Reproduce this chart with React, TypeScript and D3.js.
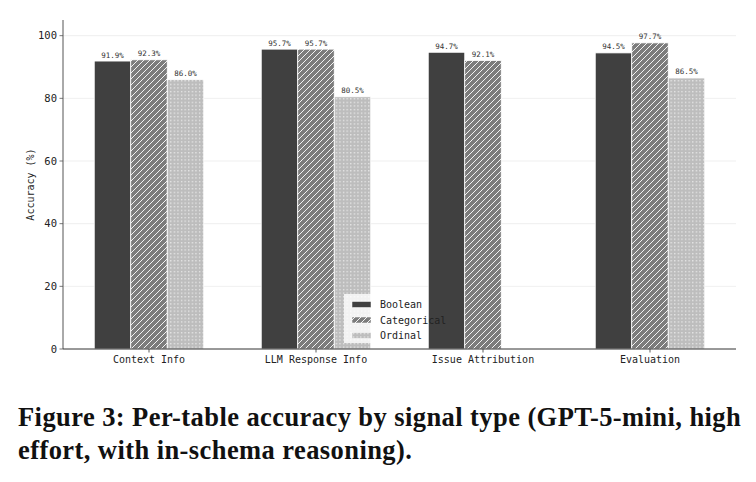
import React from "react";
import * as d3 from "d3";

const categories = ["Context Info", "LLM Response Info", "Issue Attribution", "Evaluation"];
const seriesNames = ["Boolean", "Categorical", "Ordinal"];
const booleanValues = [91.9, 95.7, 94.7, 94.5];
const categoricalValues = [92.3, 95.7, 92.1, 97.7];
const ordinalValues: (number | null)[] = [86.0, 80.5, null, 86.5];
const yTicks = [0, 20, 40, 60, 80, 100];

const W = 756;
const H = 482;
const MONO = "'DejaVu Sans Mono', monospace";
const SERIF = "'Liberation Serif', 'DejaVu Serif', serif";

const fills = ["#404040", "url(#hatch)", "url(#dots)"];

export default function App() {
  const series = [booleanValues, categoricalValues, ordinalValues];
  const plotLeft = 63;
  const plotRight = 736;
  const y = d3.scaleLinear().domain([0, 105]).range([349, 20]);
  const x = d3.scalePoint<string>().domain(categories).range([65.5, 733.5]).padding(0.5);
  const sub = d3.scaleBand<string>().domain(seriesNames).range([-54.75, 54.75]);
  const bw = sub.bandwidth();

  return (
    <svg width={W} height={H} style={{ position: "absolute", left: 0, top: 0, background: "#fff" }}>
      <defs>
        <pattern id="hatch" patternUnits="userSpaceOnUse" width={6} height={6}>
          <rect width={6} height={6} fill="#7c7c7c" />
          <path d="M-1,1 l2,-2 M0,6 l6,-6 M5,7 l2,-2" stroke="#fff" strokeWidth={0.9} />
        </pattern>
        <pattern id="dots" patternUnits="userSpaceOnUse" width={3.6} height={3.6}>
          <rect width={3.6} height={3.6} fill="#bdbdbd" />
          <rect x={1} y={1} width={1.2} height={1.2} fill="#f2f2f2" />
        </pattern>
      </defs>

      {/* horizontal grid */}
      {yTicks.slice(1).map((t) => (
        <line key={t} x1={plotLeft} x2={plotRight} y1={y(t)} y2={y(t)} stroke="#ebebeb" strokeWidth={0.8} />
      ))}

      {/* bars */}
      {series.map((vals, si) =>
        categories.map((c, ci) => {
          const v = vals[ci];
          if (v == null) return null;
          const bx = (x(c) as number) + (sub(seriesNames[si]) as number);
          return (
            <g key={`${si}-${ci}`}>
              <rect x={bx} y={y(v)} width={bw} height={y(0) - y(v)} fill={fills[si]} stroke="#fff" strokeWidth={0.8} />
              <text x={bx + bw / 2} y={y(v) - 3.5} textAnchor="middle" fontFamily={MONO} fontSize={7.5} fill="#333">
                {v.toFixed(1)}%
              </text>
            </g>
          );
        })
      )}

      {/* axes */}
      <line x1={plotLeft} x2={plotLeft} y1={20} y2={349} stroke="#555" strokeWidth={1} />
      <line x1={plotLeft} x2={plotRight} y1={349} y2={349} stroke="#333" strokeWidth={1} />
      {yTicks.map((t) => (
        <g key={t}>
          <line x1={plotLeft - 3.5} x2={plotLeft} y1={y(t)} y2={y(t)} stroke="#555" strokeWidth={0.8} />
          <text x={plotLeft - 6} y={y(t)} dy="0.35em" textAnchor="end" fontFamily={MONO} fontSize={10.5} fill="#222">
            {t}
          </text>
        </g>
      ))}
      {categories.map((c) => (
        <g key={c}>
          <line x1={x(c)} x2={x(c)} y1={349} y2={352.5} stroke="#333" strokeWidth={0.8} />
          <text x={x(c)} y={363} textAnchor="middle" fontFamily={MONO} fontSize={10} fill="#222">
            {c}
          </text>
        </g>
      ))}
      <text
        transform={`translate(${30},${y(52.5)}) rotate(-90)`}
        textAnchor="middle"
        dy="0.35em"
        fontFamily={MONO}
        fontSize={10}
        fill="#222"
      >
        Accuracy (%)
      </text>

      {/* legend */}
      <rect x={344} y={294} width={84} height={49} fill="#fff" fillOpacity={0.8} />
      {seriesNames.map((s, i) => (
        <g key={s} transform={`translate(352,${304.5 + i * 15.5})`}>
          <rect x={0} y={-3} width={19} height={6} fill={fills[i]} stroke="#fff" strokeWidth={0.5} />
          <text x={28} y={0} dy="0.35em" fontFamily={MONO} fontSize={10} fill="#222">
            {s}
          </text>
        </g>
      ))}

      {/* caption */}
      <text x={18} y={426} fontFamily={SERIF} fontWeight="bold" fontSize={26.5} letterSpacing={0.42} fill="#111">
        Figure 3: Per-table accuracy by signal type (GPT-5-mini, high
      </text>
      <text x={18} y={459} fontFamily={SERIF} fontWeight="bold" fontSize={26.5} letterSpacing={0.42} fill="#111">
        effort, with in-schema reasoning).
      </text>
    </svg>
  );
}
